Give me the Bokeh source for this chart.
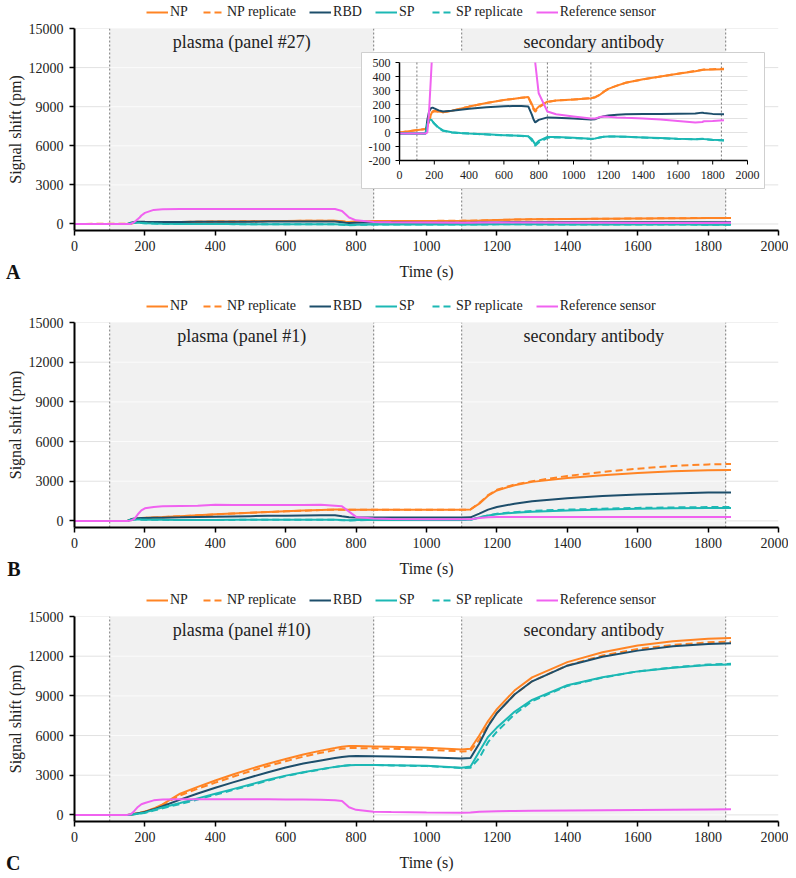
import numpy as np
from bokeh.plotting import figure
from bokeh.layouts import column
from bokeh.models import Range1d, FixedTicker, Legend, LegendItem, Label, LinearAxis
from bokeh.core.properties import value
from bokeh.embed import file_html
from bokeh.resources import INLINE

FONT = "Liberation Serif"

# ---------------- data ----------------
series_names = ["NP", "NP replicate", "RBD", "SP", "SP replicate", "Reference sensor"]
x_ticks = [0, 200, 400, 600, 800, 1000, 1200, 1400, 1600, 1800, 2000]
y_ticks = [0, 3000, 6000, 9000, 12000, 15000]
inset_x_ticks = [0, 200, 400, 600, 800, 1000, 1200, 1400, 1600, 1800, 2000]
inset_y_ticks = [-200, -100, 0, 100, 200, 300, 400, 500]
phase_start = [100, 1100]
phase_end = [850, 1850]
panel_titles_a = ["plasma (panel #27)", "secondary antibody"]
panel_titles_b = ["plasma (panel #1)", "secondary antibody"]
panel_titles_c = ["plasma (panel #10)", "secondary antibody"]
x_label = "Time (s)"
y_label = "Signal shift (pm)"

# Panel A (pm)
time_a = [0, 150, 160, 170, 180, 185, 190, 200, 225, 250,
          300, 350, 400, 450, 500, 550, 600, 650, 700, 740,
          760, 770, 780, 800, 850, 900, 1000, 1100, 1125, 1150,
          1175, 1200, 1250, 1300, 1400, 1500, 1600, 1700, 1740, 1750,
          1800, 1865]
np_a = [0, 25, 40, 85, 125, 140, 150, 155, 150, 145,
        155, 170, 185, 198, 210, 222, 232, 240, 248, 253,
        205, 175, 158, 185, 220, 228, 236, 245, 252, 268,
        292, 312, 335, 355, 380, 400, 420, 438, 446, 449,
        450, 452]
np_rep_a = [0, 25, 40, 80, 120, 135, 145, 152, 148, 145,
            155, 170, 185, 198, 210, 222, 232, 240, 248, 253,
            195, 165, 148, 178, 218, 228, 236, 245, 252, 268,
            292, 312, 335, 355, 380, 400, 420, 440, 448, 450,
            452, 455]
rbd_a = [-8, -8, 90, 150, 172, 176, 178, 172, 158, 150,
         155, 163, 170, 175, 180, 184, 187, 189, 189, 186,
         130, 95, 72, 90, 108, 106, 100, 92, 95, 108,
         117, 122, 127, 130, 132, 133, 134, 135, 142, 140,
         133, 130]
sp_a = [-8, -8, 60, 90, 92, 88, 80, 65, 35, 15,
        2, -3, -7, -10, -13, -16, -19, -21, -24, -27,
        -45, -65, -85, -60, -32, -32, -38, -45, -43, -35,
        -30, -28, -28, -30, -35, -40, -45, -48, -45, -47,
        -52, -55]
sp_rep_a = [-8, -8, 55, 85, 88, 85, 78, 62, 32, 12,
            0, -5, -8, -11, -14, -17, -20, -22, -25, -28,
            -55, -78, -95, -72, -38, -34, -40, -47, -45, -36,
            -31, -29, -29, -31, -36, -41, -46, -49, -46, -48,
            -53, -57]
ref_a = [-8, -8, 0, 150, 380, 500, 650, 850, 1080, 1130,
         1150, 1155, 1155, 1155, 1155, 1155, 1155, 1152, 1150, 1150,
         1000, 750, 500, 280, 150, 130, 115, 100, 100, 110,
         115, 112, 108, 105, 100, 92, 82, 72, 75, 80,
         82, 88]

# Panels B and C (pm)
time_bc = [0, 150, 160, 170, 180, 190, 200, 225, 250, 300,
           350, 400, 450, 500, 550, 600, 650, 700, 740, 760,
           780, 800, 850, 900, 1000, 1100, 1125, 1150, 1175, 1200,
           1250, 1300, 1400, 1500, 1600, 1700, 1800, 1865]
np_b = [0, 0, 80, 150, 190, 210, 230, 260, 290, 360,
        430, 500, 560, 620, 680, 730, 780, 830, 860, 860,
        850, 850, 850, 850, 850, 850, 870, 1300, 1900, 2300,
        2700, 2950, 3250, 3450, 3620, 3750, 3830, 3850]
np_rep_b = [0, 0, 70, 140, 180, 200, 220, 250, 280, 350,
            420, 490, 550, 610, 670, 720, 770, 820, 850, 850,
            840, 840, 840, 840, 840, 840, 860, 1350, 1950, 2350,
            2750, 3000, 3400, 3700, 3950, 4150, 4270, 4300]
rbd_b = [0, 0, 120, 180, 200, 210, 215, 230, 245, 270,
         300, 320, 340, 360, 380, 395, 410, 420, 425, 350,
         280, 260, 250, 250, 250, 250, 270, 550, 850, 1050,
         1300, 1480, 1720, 1880, 2000, 2080, 2140, 2150]
sp_b = [0, 0, 80, 110, 110, 100, 95, 85, 80, 75,
        75, 75, 78, 80, 82, 85, 88, 90, 92, 60,
        40, 60, 70, 70, 70, 70, 90, 250, 400, 500,
        620, 700, 790, 860, 910, 950, 970, 975]
sp_rep_b = [0, 0, 75, 105, 105, 95, 90, 82, 78, 72,
            72, 73, 76, 78, 80, 83, 86, 88, 90, 55,
            35, 55, 65, 68, 68, 68, 85, 260, 420, 540,
            660, 760, 850, 920, 980, 1020, 1045, 1050]
ref_b = [0, 0, 20, 150, 500, 800, 950, 1050, 1100, 1130,
         1150, 1220, 1200, 1200, 1200, 1210, 1210, 1220, 1150, 1100,
         700, 300, 180, 150, 130, 120, 130, 220, 280, 290,
         300, 300, 300, 300, 300, 300, 300, 300]

np_c = [0, 0, 30, 80, 130, 190, 250, 480, 800, 1600,
        2120, 2600, 3050, 3480, 3870, 4230, 4560, 4860, 5050, 5150,
        5200, 5200, 5180, 5150, 5080, 4950, 5000, 6000, 7100, 8000,
        9400, 10400, 11550, 12300, 12800, 13130, 13310, 13380]
np_rep_c = [0, 0, 30, 70, 120, 180, 240, 450, 750, 1480,
            1980, 2440, 2880, 3300, 3700, 4060, 4400, 4700, 4900, 5000,
            5050, 5050, 5030, 5000, 4930, 4800, 4830, 5700, 6800, 7700,
            9100, 10100, 11300, 12050, 12550, 12850, 13050, 13100]
rbd_c = [0, 0, 30, 70, 120, 170, 220, 420, 650, 1150,
         1620, 2050, 2460, 2850, 3230, 3580, 3880, 4120, 4300, 4380,
         4430, 4450, 4440, 4420, 4360, 4260, 4300, 5400, 6700, 7700,
         9100, 10100, 11280, 11950, 12420, 12750, 12920, 12980]
sp_c = [0, 0, 20, 50, 90, 130, 170, 380, 560, 900,
        1250, 1600, 1950, 2300, 2650, 2970, 3230, 3460, 3630, 3700,
        3760, 3780, 3780, 3760, 3720, 3570, 3650, 4800, 5900, 6600,
        7800, 8700, 9800, 10400, 10850, 11130, 11330, 11380]
sp_rep_c = [0, 0, 20, 45, 80, 120, 150, 330, 500, 820,
            1170, 1520, 1880, 2230, 2590, 2930, 3200, 3440, 3620, 3700,
            3760, 3780, 3770, 3740, 3690, 3550, 3560, 4300, 5500, 6300,
            7600, 8600, 9750, 10380, 10850, 11150, 11370, 11420]
ref_c = [0, 0, 50, 300, 600, 800, 900, 1100, 1170, 1180,
         1180, 1180, 1180, 1180, 1180, 1170, 1160, 1150, 1100, 1050,
         580, 380, 230, 210, 180, 170, 180, 230, 260, 280,
         300, 310, 330, 350, 370, 390, 410, 420]

# ---------------- styles ----------------
COLORS = ["#ff8424", "#ff8424", "#1d4e6b", "#1cb8b4", "#1cb8b4", "#f062f0"]
DASHES = ["solid", "7 4", "solid", "solid", "7 4", "solid"]
TXT = "#222222"
XMIN, XMAX, YMIN, YMAX = 0, 2000, -500, 15000
FIG_W, BORDER_L, BORDER_R = 788, 74, 10
FW = FIG_W - BORDER_L - BORDER_R
TOP_B, BOT_B = 8, 28
NAN = [np.nan]


def blank(height):
    s = figure(width=FIG_W, height=height, x_range=Range1d(XMIN, XMAX),
               y_range=Range1d(0, height), output_backend="svg",
               toolbar_location=None, x_axis_type=None, y_axis_type=None,
               min_border_left=BORDER_L, min_border_right=BORDER_R,
               min_border_top=0, min_border_bottom=0)
    s.outline_line_color = None
    return s


def legend_strip(height):
    s = blank(height)
    rends = [s.line(NAN, NAN, line_color=c, line_width=2, line_dash=d)
             for c, d in zip(COLORS, DASHES)]
    items = [LegendItem(label=n, renderers=[r]) for n, r in zip(series_names, rends)]
    s.add_layout(Legend(items=items, location=(72, 0), orientation="horizontal",
                        glyph_width=22, glyph_height=14, label_height=14,
                        label_standoff=2, spacing=13, padding=0, margin=0,
                        border_line_color=None, background_fill_alpha=0,
                        label_text_font=FONT, label_text_font_size="14px",
                        label_text_color=TXT))
    return s


def label_strip(height, letter):
    s = blank(height)
    mid = height / 2
    s.add_layout(Label(x=(XMIN + XMAX) / 2, y=mid, text=x_label,
                       text_font=FONT, text_font_size="16px", text_color=TXT,
                       text_align="center", text_baseline="middle"))
    # panel letter: a one-tick axis in the left margin
    ax = LinearAxis(ticker=FixedTicker(ticks=[mid]),
                    major_label_overrides={mid: letter},
                    axis_line_color=None, major_tick_line_color=None,
                    minor_tick_line_color=None, major_label_standoff=48,
                    major_label_text_font=FONT, major_label_text_font_size="20px",
                    major_label_text_font_style="bold",
                    major_label_text_color="#111111")
    s.add_layout(ax, "left")
    return s


def make_panel(times, data, titles, frame_h):
    height = TOP_B + frame_h + BOT_B
    p = figure(width=FIG_W, height=height, x_range=Range1d(XMIN, XMAX),
               y_range=Range1d(YMIN, YMAX), output_backend="svg",
               toolbar_location=None, min_border_left=BORDER_L,
               min_border_right=BORDER_R, min_border_top=TOP_B,
               min_border_bottom=BOT_B)
    p.outline_line_color = None
    p.xgrid.visible = False
    p.ygrid.visible = False

    # grid, shading, phase boundaries
    p.segment(x0=XMIN, x1=XMAX, y0=y_ticks, y1=y_ticks,
              line_color="#e2e2e2", line_width=1)
    p.quad(left=phase_start, right=phase_end, bottom=YMIN, top=YMAX,
           fill_color="#f1f1f1", line_color=None)
    gx0 = [s for s in phase_start for _ in y_ticks]
    gx1 = [e for e in phase_end for _ in y_ticks]
    gy = [y for _ in phase_start for y in y_ticks]
    p.segment(x0=gx0, x1=gx1, y0=gy, y1=gy, line_color="#fbfbfb", line_width=1)
    bounds = phase_start + phase_end
    p.segment(x0=bounds, x1=bounds, y0=YMIN, y1=YMAX, line_color="#7a7a7a",
              line_width=1, line_dash="2 2")

    for vals, c, d in zip(data, COLORS, DASHES):
        p.line(times, vals, line_color=c, line_width=2, line_dash=d)

    for ax in (p.xaxis[0], p.yaxis[0]):
        ax.axis_line_color = "black"
        ax.axis_line_width = 2
        ax.major_tick_line_color = "black"
        ax.major_tick_line_width = 1.5
        ax.major_tick_out = 5
        ax.major_tick_in = 0
        ax.minor_tick_line_color = None
        ax.major_label_text_font = FONT
        ax.major_label_text_font_size = "14px"
        ax.major_label_text_color = TXT
        ax.axis_label_text_font = FONT
        ax.axis_label_text_font_size = "16px"
        ax.axis_label_text_font_style = "normal"
        ax.axis_label_text_color = TXT
    p.xaxis.ticker = FixedTicker(ticks=x_ticks)
    p.yaxis.ticker = FixedTicker(ticks=y_ticks)
    p.yaxis.axis_label = y_label
    p.xaxis.major_label_standoff = 5
    p.yaxis.major_label_standoff = 6
    p.yaxis.axis_label_standoff = 2

    for s, e, t in zip(phase_start, phase_end, titles):
        p.add_layout(Label(x=(s + e) / 2, y=frame_h - 13, y_units="screen", text=t,
                           text_font=FONT, text_font_size="18px",
                           text_color=TXT, text_align="center",
                           text_baseline="middle"))
    return p


# ---------------- panel A with inset ----------------
FHA = 202
data_a = [np_a, np_rep_a, rbd_a, sp_a, sp_rep_a, ref_a]
pA = make_panel(time_a, data_a, panel_titles_a, FHA)

IXMIN, IXMAX, IYMIN, IYMAX = 0, 2000, -200, 500
IX0, IX1, IYT, IYB = 325, 673, 34, 132      # inset plot area (px in frame)
BX0, BX1, BYT, BYB = 287, 690, 24, 160      # inset white box (px in frame)
kx = (IX1 - IX0) / (IXMAX - IXMIN)
ky = (IYB - IYT) / (IYMAX - IYMIN)
sx = IXMIN - IX0 / kx
sy = IYMIN - (FHA - IYB) / ky
pA.extra_x_ranges = {"ix": Range1d(sx, sx + FW / kx)}
pA.extra_y_ranges = {"iy": Range1d(sy, sy + FHA / ky)}
kw = dict(x_range_name="ix", y_range_name="iy")

pA.quad(left=sx + BX0 / kx, right=sx + BX1 / kx,
        bottom=sy + (FHA - BYB) / ky, top=sy + (FHA - BYT) / ky,
        fill_color="white", line_color="#cfcfcf", line_width=1, **kw)
pA.segment(x0=IXMIN, x1=IXMAX, y0=inset_y_ticks[1:], y1=inset_y_ticks[1:],
           line_color="#e2e2e2", line_width=1, **kw)
ib = phase_start + phase_end
pA.segment(x0=ib, x1=ib, y0=IYMIN, y1=IYMAX, line_color="#7a7a7a",
           line_width=1, line_dash="2 2", **kw)
for vals, c, d in zip(data_a, COLORS, DASHES):
    v = np.array(vals, dtype=float)
    v = np.where((v <= IYMAX) & (v >= IYMIN), v, np.nan)
    pA.line(time_a, v, line_color=c, line_width=2, line_dash=d, **kw)
TICK = 4
pA.segment(x0=[IXMIN, IXMIN], x1=[IXMIN, IXMAX], y0=[IYMIN, IYMIN],
           y1=[IYMAX, IYMIN], line_color="black", line_width=1.5, **kw)
pA.segment(x0=IXMIN - TICK / kx, x1=IXMIN, y0=inset_y_ticks, y1=inset_y_ticks,
           line_color="black", line_width=1, **kw)
pA.segment(x0=inset_x_ticks, x1=inset_x_ticks, y0=IYMIN, y1=IYMIN - TICK / ky,
           line_color="black", line_width=1, **kw)
pA.text(x=IXMIN, y=inset_y_ticks, text=[str(t) for t in inset_y_ticks],
        x_offset=-9, text_align="right", text_baseline="middle",
        text_font=value(FONT), text_font_size=value("12px"),
        text_color=TXT, **kw)
pA.text(x=inset_x_ticks, y=IYMIN, text=[str(t) for t in inset_x_ticks],
        y_offset=14, text_align="center", text_baseline="middle",
        text_font=value(FONT), text_font_size=value("12px"),
        text_color=TXT, **kw)

# ---------------- panels B and C ----------------
pB = make_panel(time_bc, [np_b, np_rep_b, rbd_b, sp_b, sp_rep_b, ref_b],
                panel_titles_b, 205)
pC = make_panel(time_bc, [np_c, np_rep_c, rbd_c, sp_c, sp_rep_c, ref_c],
                panel_titles_c, 205)

layout = column(
    legend_strip(20), pA, label_strip(26, "A"),
    legend_strip(30), pB, label_strip(26, "B"),
    legend_strip(27), pC, label_strip(26, "C"),
    spacing=0)
open("out.html", "w").write(file_html(layout, INLINE))
